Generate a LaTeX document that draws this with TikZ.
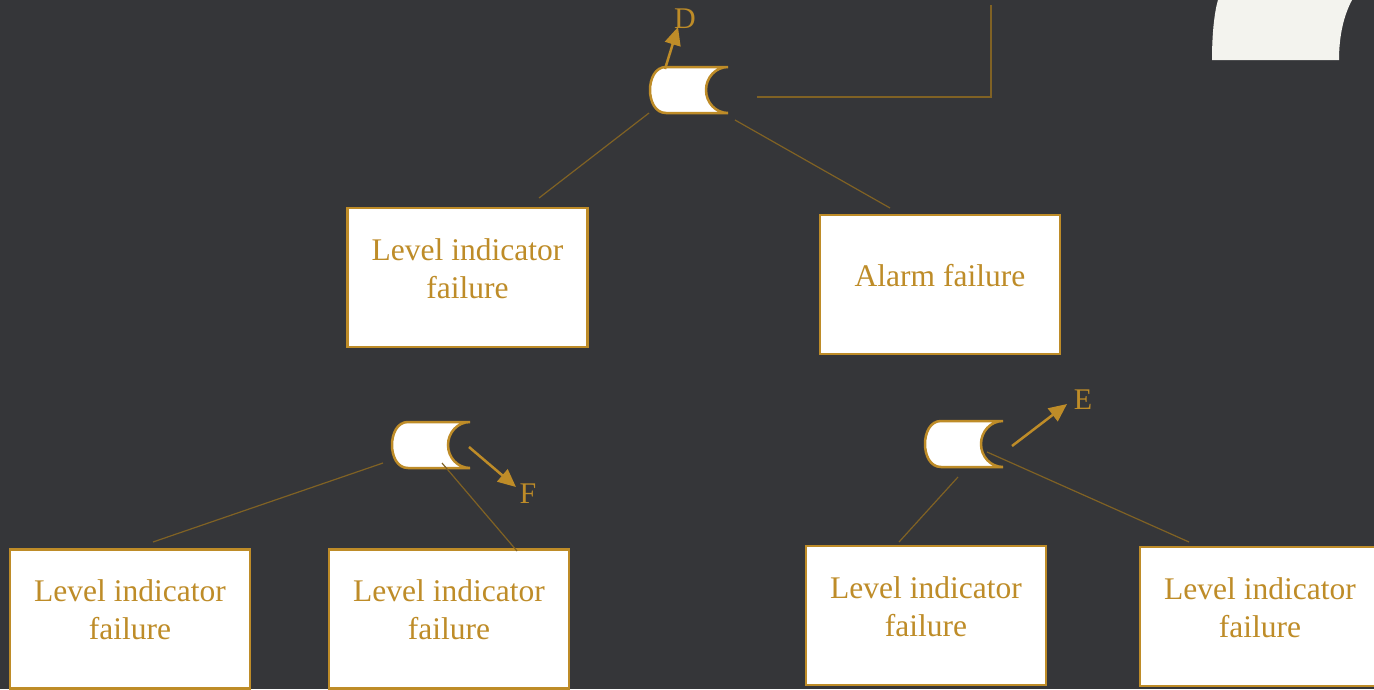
\documentclass[tikz,border=0pt]{standalone}
\usepackage{fontspec}
\setmainfont{Liberation Serif}
\usepackage{tikz}
\usetikzlibrary{arrows.meta, positioning, calc}

\definecolor{slate}{RGB}{53,54,57}
\definecolor{gold}{RGB}{190,140,40}
\definecolor{linegold}{RGB}{128,98,36}
\definecolor{chalk}{RGB}{243,243,238}

\tikzset{
    pics/orgate/.style={code={
        \path[draw=gold, fill=white, line width=2.5pt]
            (78,-23) to[out=180, in=90] (56,0) to[out=-90, in=180] (78,23)
            -- (16,23) to[out=180, in=-90] (0,0) to[out=90, in=180] (16,-23) -- cycle;
    }}
}

\begin{document}
\begin{tikzpicture}[
        x=1pt, y=-1pt,
        box/.style={draw=gold, fill=white, line width=2.5pt, minimum width=240pt, minimum height=139pt, inner sep=0pt},
        boxtext/.style={text=gold, font=\fontsize{31.5}{38}\selectfont, align=center, inner sep=0pt},
        tag/.style={text=gold, font=\fontsize{30}{36}\selectfont, inner sep=0pt},
        link/.style={draw=linegold, line width=1.2pt},
        outarrow/.style={draw=gold, line width=2.5pt, -{Triangle[length=18pt, width=16pt]}}
    ]

    % Background and corner decoration
    \useasboundingbox (0,0) rectangle (1374,689);
    \fill[slate] (0,0) rectangle (1374,689);
    \fill[chalk] (1212,60) .. controls (1212,30) and (1215,10) .. (1218,0)
        -- (1352,0) .. controls (1344,15) and (1339,35) .. (1339,60) -- cycle;

    % Gates
    \pic at (650,90) {orgate};
    \pic at (392,445) {orgate};
    \pic at (925,444) {orgate};

    % Event boxes
    \node[box] (b1) at (467.5,277.5) {};
    \node[box] (b2) at (940,284.5) {};
    \node[box] (b3) at (130,619) {};
    \node[box] (b4) at (449,619) {};
    \node[box] (b5) at (926,615.5) {};
    \node[box] (b6) at (1260,616.5) {};

    \node[boxtext] (t1) at ([yshift=9pt]b1.center) {Level indicator\\failure};
    \node[boxtext] (t2) at ([yshift=9pt]b2.center) {Alarm failure};
    \node[boxtext] (t3) at ([yshift=9pt]b3.center) {Level indicator\\failure};
    \node[boxtext] (t4) at ([yshift=9pt]b4.center) {Level indicator\\failure};
    \node[boxtext] (t5) at ([yshift=9pt]b5.center) {Level indicator\\failure};
    \node[boxtext] (t6) at ([yshift=9pt]b6.center) {Level indicator\\failure};

    % Transfer labels
    \node[tag] (d) at (685,19) {D};
    \node[tag] (f) at (528,494) {F};
    \node[tag] (e) at (1083,400) {E};

    % Connector end points
    \coordinate (g1l) at (649,113);
    \coordinate (g1r) at (735,120);
    \coordinate (g1o) at (757,97);
    \coordinate (up) at (991,5);
    \coordinate (b1t) at (539,198);
    \coordinate (b2t) at (890,208);
    \coordinate (g2l) at (383,463);
    \coordinate (g2r) at (442,463);
    \coordinate (b3t) at (153,542);
    \coordinate (b4t) at (517,551);
    \coordinate (g3l) at (958,477);
    \coordinate (g3r) at (987,452);
    \coordinate (b5t) at (899,542);
    \coordinate (b6t) at (1189,542);

    \draw[link] (g1l) -- (b1t);
    \draw[link] (g1r) -- (b2t);
    \draw[link] (g1o) -| (up);
    \draw[link] (g2l) -- (b3t);
    \draw[link] (g2r) -- (b4t);
    \draw[link] (g3l) -- (b5t);
    \draw[link] (g3r) -- (b6t);

    % Transfer arrows
    \coordinate (a1) at (665,69);
    \coordinate (a1e) at (678,27);
    \coordinate (a2) at (469,447);
    \coordinate (a2e) at (516,487);
    \coordinate (a3) at (1012,446);
    \coordinate (a3e) at (1067,404);
    \draw[outarrow] (a1) -- (a1e);
    \draw[outarrow] (a2) -- (a2e);
    \draw[outarrow] (a3) -- (a3e);

\end{tikzpicture}
\end{document}
